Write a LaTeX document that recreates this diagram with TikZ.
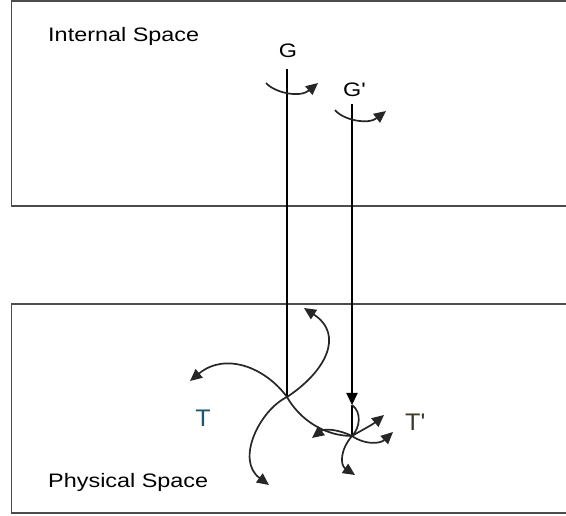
\documentclass[tikz,border=0pt]{standalone}
\usepackage{fontspec}
\setmainfont{Liberation Sans}
\usetikzlibrary{arrows.meta}
\definecolor{tbleu}{HTML}{1E5570}
\definecolor{tbrun}{HTML}{3F3A28}
\tikzset{
  cadre/.style={draw=black!70, line width=1.6pt},
  axe/.style={draw=black, line width=2pt},
  pointe/.tip={Triangle[length=12pt,width=11pt]},
  bras/.style={draw=black!85, line width=1.7pt, -pointe},
  brasnu/.style={draw=black!85, line width=1.7pt},
  etiq/.style={font=\fontsize{19.5}{22}\selectfont, xscale=1.2, inner sep=0pt},
  etiqT/.style={font=\fontsize{24}{26}\selectfont, xscale=1.05, inner sep=0pt, anchor=base},
}
\begin{document}
\begin{tikzpicture}[x=1pt, y=-1pt]
        \useasboundingbox (0,0) rectangle (566,516);

        % Espace interne
        \draw[cadre] (566,1) -- (11.5,1) -- (11.5,206) -- (566,206);
        \node[etiq, anchor=base west] (interne) at (48,42) {Internal Space};

        % Espace physique
        \draw[cadre] (566,304) -- (11.5,304) -- (11.5,513) -- (566,513);
        \node[etiq, anchor=base west] (physique) at (48,487) {Physical Space};

        % Points et etiquettes
        \coordinate (gtop) at (287,69);
        \coordinate (gptop) at (352,104);
        \coordinate (t) at (287,397);
        \coordinate (tp) at (352,436);
        \coordinate (gpfin) at (352,405);
        \node[etiq, anchor=base] (g) at (288,58) {G};
        \node[etiq, anchor=base west] (gp) at (343,97) {G\textquotesingle};
        \node[etiqT, text=tbleu] (tlab) at (203,426) {T};
        \node[etiqT, text=tbrun, anchor=base west] (tplab) at (405,430) {T\textquotesingle};

        % Axes G et G'
        \draw[axe] (gtop) -- (t);
        \draw[axe, -pointe] (gptop) -- (gpfin);
        \draw[axe] (gpfin) -- (tp);

        % Rotations en haut
        \draw[bras] (266,83) .. controls (275,93) and (300,98) .. (318,83);
        \draw[bras] (335,110) .. controls (343,120) and (368,125) .. (386,111);

        % Bras autour de T
        \draw[bras] (t) .. controls (325,372) and (345,335) .. (304,308);
        \draw[bras] (t) .. controls (265,367) and (225,352) .. (190,381);
        \draw[bras] (t) .. controls (260,410) and (235,460) .. (269,485);
        \draw[brasnu] (t) .. controls (300,420) and (325,436) .. (tp);

        % Bras autour de T'
        \draw[brasnu] (gpfin) .. controls (362,412) and (360,428) .. (tp);
        \draw[bras] (tp) .. controls (362,430) and (372,425) .. (384,415);
        \draw[bras] (tp) .. controls (365,445) and (380,444) .. (393,432);
        \draw[bras] (tp) .. controls (340,450) and (340,465) .. (355,475);
        \draw[bras] (tp) .. controls (340,430) and (325,428) .. (312,438);
    \end{tikzpicture}
\end{document}
